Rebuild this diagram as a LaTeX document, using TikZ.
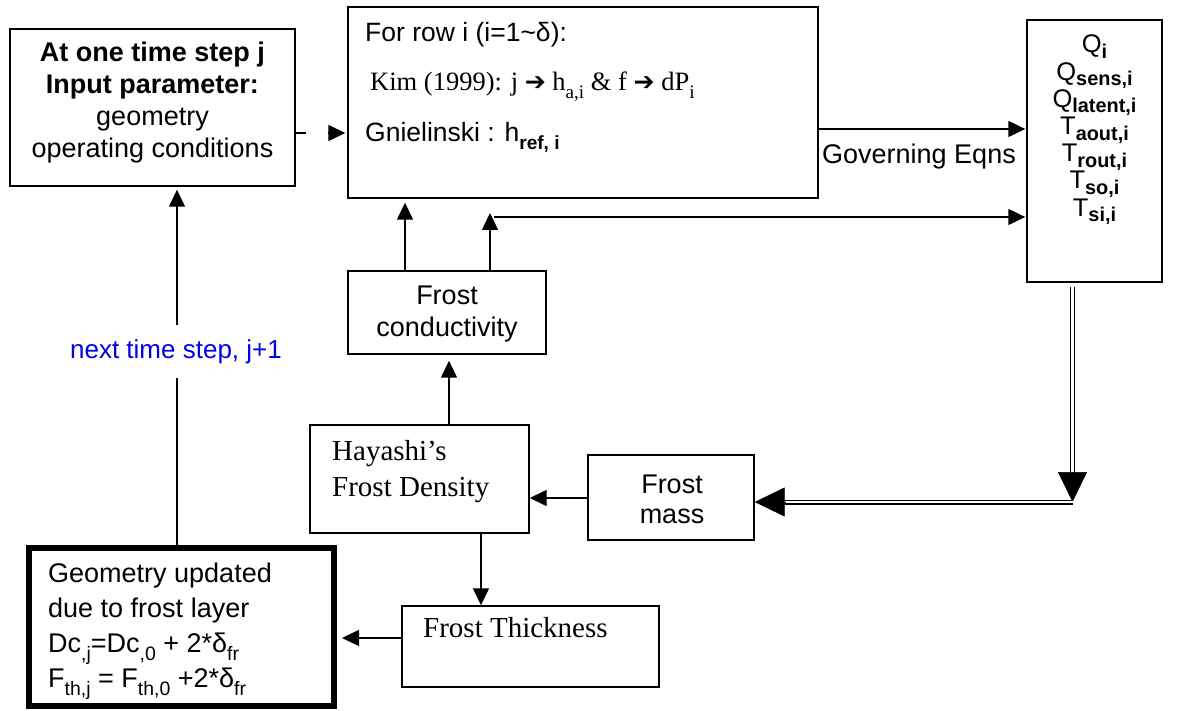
\documentclass[tikz,border=0pt]{standalone}
\usepackage{fontspec}
\setmainfont{Liberation Sans}
\newfontfamily\tnr{Liberation Serif}
\newfontfamily\dvs{DejaVu Sans}
\usetikzlibrary{arrows.meta}
\newcommand\sbs[1]{\raisebox{-0.28em}{\scalebox{0.72}{#1}}}
\newcommand\sbq[1]{\raisebox{-0.22em}{\scalebox{0.78}{\textbf{#1}}}}
\newcommand\fsz[2]{\fontsize{#1}{#2}\selectfont}
\newcommand\qfont{\fontsize{25.5}{27.2}\selectfont\lineskiplimit=-30pt\relax}
\begin{document}
\begin{tikzpicture}[x=1pt,y=-1pt,
  box/.style n args={2}{draw, line width=1.4pt, inner sep=0pt, minimum width=#1, minimum height=#2},
  txt/.style={inner sep=0pt},
  ln/.style={line width=1.4pt},
  arr/.style={line width=1.4pt, -{Triangle[length=17pt,width=16pt]}},
  bigarr/.style={line width=0.6pt, -{Triangle[length=30pt,width=29pt]}},
  dbl/.style={double, double distance=2.6pt, line width=1.2pt}]
\useasboundingbox (0,0) rectangle (1184,711);
% boxes
\node[box={285}{157}] (A) at (152.5,107.5) {};
\node[box={470}{191}] (B) at (583,102.5) {};
\node[box={135}{262}] (C) at (1094.5,151) {};
\node[box={198}{83}] (FC) at (447,312.5) {};
\node[box={219}{108}] (H) at (419.5,479) {};
\node[box={166}{85}] (FM) at (671,497.5) {};
\node[box={257}{81}] (FT) at (530.5,646.5) {};
\node[box={305}{158}, line width=6pt] (G) at (181.5,627) {};
% texts
\node[txt, align=center, font=\fsz{27}{32}] (tA) at (152.5,103) {\textbf{At one time step j}\\\textbf{Input parameter:}\\geometry\\operating conditions};
\node[txt, anchor=base west, font=\fsz{26.5}{30}] (tB1) at (365,42) {For row i (i=1\textasciitilde δ):};
\node[txt, anchor=base west, font=\tnr\fsz{26.5}{30}] (tB2) at (370,91) {Kim (1999): j {\dvs\scalebox{0.95}{➔}} h\sbs{a,i} \& f {\dvs\scalebox{0.95}{➔}} dP\sbs{i}};
\node[txt, anchor=base west, font=\fsz{26.5}{30}] (tB3) at (365,142) {Gnielinski : h\sbs{\textbf{ref, i}}};
\node[txt, align=center, font=\qfont] (tC) at (1094.5,130) {Q\sbq{i}\\Q\sbq{sens,i}\\Q\sbq{latent,i}\\T\sbq{aout,i}\\T\sbq{rout,i}\\T\sbq{so,i}\\T\sbq{si,i}};
\node[txt, font=\fsz{27}{32}] (tGE) at (919,157) {Governing Eqns};
\node[txt, align=center, font=\fsz{27}{32}] (tFC) at (447,314) {Frost\\conductivity};
\node[txt, anchor=west, align=left, font=\tnr\fsz{29}{36}] (tH) at (332,472) {Hayashi’s\\Frost Density};
\node[txt, align=center, font=\fsz{27}{30}] (tFM) at (672,499) {Frost\\mass};
\node[txt, anchor=base west, font=\tnr\fsz{29}{36}] (tFT) at (423,637) {Frost Thickness};
\node[txt, anchor=west, align=left, font=\fsz{27}{35}] (tG) at (48,631) {Geometry updated\\due to frost layer\\Dc\sbs{,j}=Dc\sbs{,0} + 2*δ\sbs{fr}\\F\sbs{th,j} = F\sbs{th,0} +2*δ\sbs{fr}};
\node[txt, minimum height=53pt, text=blue!90!black, font=\fsz{26}{30}] (lbl) at (176,351.5) {next time step, j+1};
% helper coordinates
\coordinate (ab) at (0,133);
\coordinate (bc) at (0,129);
\coordinate (x405) at (405,0);
\coordinate (x490) at (490,0);
\coordinate (t2) at (490,213);
\coordinate (hj) at (494,217);
\coordinate (cx) at (1072.5,0);
\coordinate (corner) at (1072.5,502);
\coordinate (fh) at (0,498);
\coordinate (x449) at (449,0);
\coordinate (x481) at (481,0);
\coordinate (ftg) at (0,638);
\coordinate (gx) at (177,0);
% connectors
\draw[arr, dash pattern=on 10pt off 22pt, shorten >=2pt] (A.east |- ab) -- (B.west |- ab);
\draw[arr, shorten >=1pt] (B.east |- bc) -- (C.west |- bc);
\draw[arr, shorten >=4pt] (FC.north -| x405) -- (B.south -| x405);
\draw[arr] (FC.north -| x490) -- (t2);
\draw[arr, shorten >=1pt] (hj) -- (C.west |- hj);
\draw[dbl, shorten <=4pt] (C.south -| cx) -- ([yshift=22pt]corner);
\draw[bigarr] ([yshift=30pt]corner) -- (corner);
\draw[dbl, shorten >=24pt] (corner) -- (FM.east |- corner);
\draw[bigarr] ([xshift=30pt]FM.east |- corner) -- (FM.east |- corner);
\draw[arr] (FM.west |- fh) -- (H.east |- fh);
\draw[arr, shorten >=6pt] (H.north -| x449) -- (FC.south -| x449);
\draw[arr] (H.south -| x481) -- (FT.north -| x481);
\draw[arr, shorten >=5pt] (FT.west |- ftg) -- (G.east |- ftg);
\draw[ln] (G.north -| gx) -- (lbl.south -| gx);
\draw[arr, shorten >=3pt] (lbl.north -| gx) -- (A.south -| gx);
\end{tikzpicture}
\end{document}
